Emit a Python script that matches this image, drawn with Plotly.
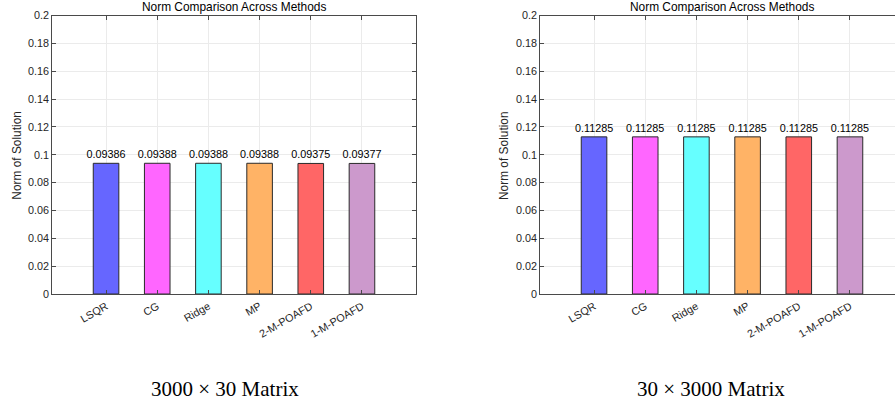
import plotly.graph_objects as go

methods = ["LSQR", "CG", "Ridge", "MP", "2-M-POAFD", "1-M-POAFD"]
norms_tall = [0.09386, 0.09388, 0.09388, 0.09388, 0.09375, 0.09377]
norms_wide = [0.11285, 0.11285, 0.11285, 0.11285, 0.11285, 0.11285]
bar_colors = ["#6666ff", "#ff66ff", "#66ffff", "#ffb366", "#ff6666", "#cc99cc"]
y_ticks = [0, 0.02, 0.04, 0.06, 0.08, 0.1, 0.12, 0.14, 0.16, 0.18, 0.2]
y_tick_text = ["0", "0.02", "0.04", "0.06", "0.08", "0.1", "0.12", "0.14", "0.16", "0.18", "0.2"]
title_text = "Norm Comparison Across Methods"
ylabel_text = "Norm of Solution"
captions = ["3000 × 30 Matrix", "30 × 3000 Matrix"]

W, H = 895, 405
FONT = "Liberation Sans, Arial, Helvetica, sans-serif"
TXT = "#262626"
AX = "#4a4a4a"
GRID = "#ebebeb"

xpos = list(range(1, len(methods) + 1))

fig = go.Figure()
for vals, xa, ya in [(norms_tall, "x", "y"), (norms_wide, "x2", "y2")]:
    fig.add_trace(go.Bar(
        x=xpos, y=vals, xaxis=xa, yaxis=ya, width=0.5,
        marker=dict(color=bar_colors, line=dict(color="#2a2a2a", width=1)),
        text=[f"{v:.5f}" for v in vals], textposition="outside",
        constraintext="none",
        textfont=dict(family=FONT, size=10.8, color="#000000"),
        cliponaxis=False, showlegend=False, hoverinfo="skip",
    ))

ydom = [(405 - 294) / H, (405 - 15.5) / H]
common_x = dict(
    tickvals=xpos, ticktext=methods, tickangle=-30, ticks="inside", ticklen=4,
    tickcolor=AX, showgrid=True, gridcolor=GRID, gridwidth=1, zeroline=False,
    tickfont=dict(family=FONT, size=10.8, color=TXT), showline=True, linecolor=AX,
    linewidth=1, mirror="ticks", automargin=False, ticklabelstandoff=1,
)
common_y = dict(
    range=[0, 0.2], tickvals=y_ticks, ticktext=y_tick_text, ticks="inside", ticklen=4,
    tickcolor=AX, showgrid=True, gridcolor=GRID, gridwidth=1, zeroline=False,
    tickfont=dict(family=FONT, size=10.8, color=TXT), showline=True, linecolor=AX,
    linewidth=1, automargin=False, domain=ydom,
)

fig.update_layout(
    width=W, height=H, margin=dict(l=0, r=0, t=0, b=0),
    paper_bgcolor="white", plot_bgcolor="white",
    xaxis=dict(common_x, domain=[52.3 / W, 415.7 / W], range=[-0.05, 7.05], anchor="y"),
    yaxis=dict(common_y, anchor="x", mirror="ticks"),
    xaxis2=dict(common_x, domain=[540.3 / W, 1.0], range=[-0.05, 6.88], anchor="y2"),
    yaxis2=dict(common_y, anchor="x2", mirror=False),
    bargap=0.5,
)

annotations = []
for cx, ylx in [(234, 16.7), (722, 504)]:
    annotations.append(dict(
        text=title_text, x=cx / W, y=1 - 7.5 / H, xref="paper", yref="paper",
        xanchor="center", yanchor="middle", showarrow=False,
        font=dict(family=FONT, size=11.9, color="#000000"),
    ))
    annotations.append(dict(
        text=ylabel_text, x=ylx / W, y=1 - 155 / H, xref="paper", yref="paper",
        xanchor="center", yanchor="middle", showarrow=False, textangle=-90,
        font=dict(family=FONT, size=11.9, color=TXT),
    ))
for cx, cap in zip([225, 711], captions):
    annotations.append(dict(
        text=cap, x=cx / W, y=1 - 389 / H, xref="paper", yref="paper",
        xanchor="center", yanchor="middle", showarrow=False,
        font=dict(family="Liberation Serif, Times New Roman, serif", size=21, color="#000000"),
    ))
fig.update_layout(annotations=annotations)

fig.write_html(
    "out.html",
    config={"displayModeBar": False},
    post_script="document.body.style.margin='0';document.body.style.padding='0';document.body.style.overflow='hidden';",
)
